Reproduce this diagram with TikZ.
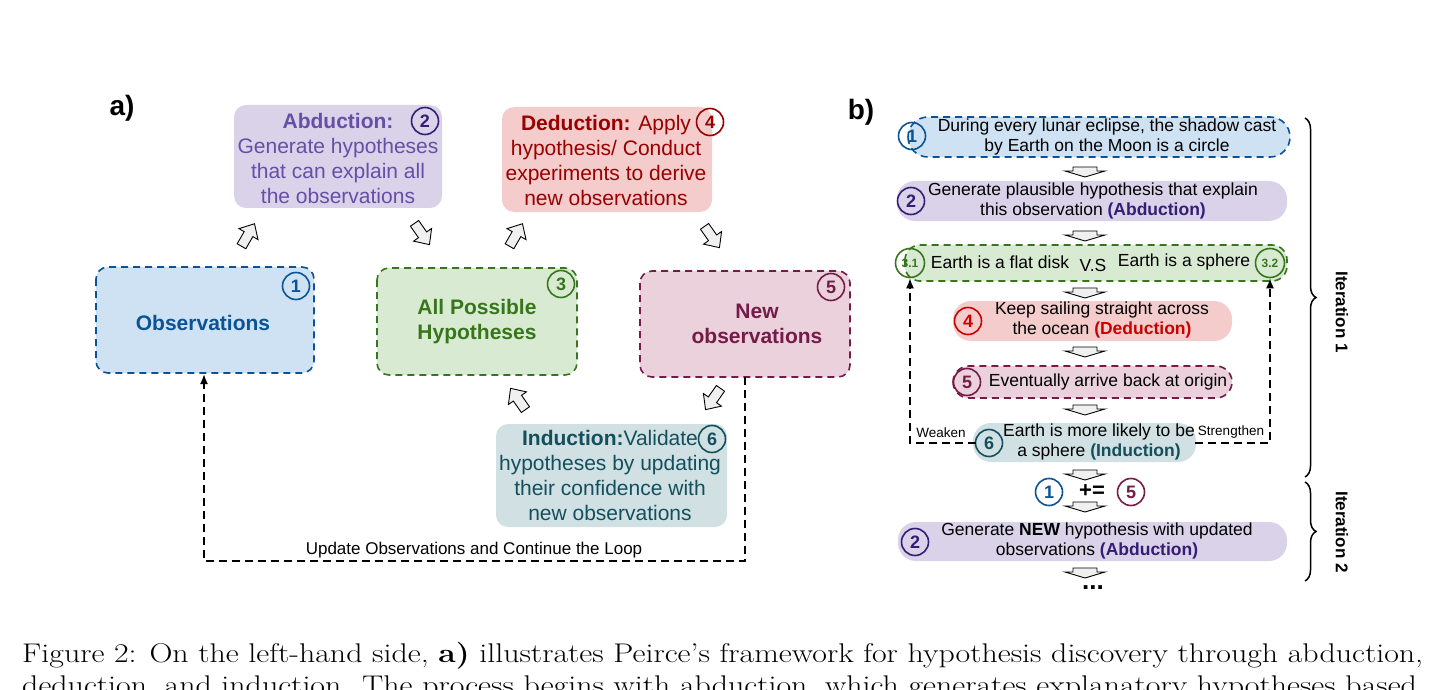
\documentclass[tikz,border=0pt]{standalone}
\usepackage{fontspec}
\setsansfont{Liberation Sans}
\usetikzlibrary{decorations.pathreplacing,arrows.meta}
\definecolor{cblue}{HTML}{0B5394}\definecolor{fblue}{HTML}{CFE2F3}
\definecolor{cpur}{HTML}{351C75}\definecolor{tpur}{HTML}{674EA7}\definecolor{fpur}{HTML}{D9D2E9}
\definecolor{cred}{HTML}{990000}\definecolor{tred}{HTML}{CC0000}\definecolor{fred}{HTML}{F4CCCC}
\definecolor{cgrn}{HTML}{38761D}\definecolor{fgrn}{HTML}{D9EAD3}
\definecolor{cmar}{HTML}{741B47}\definecolor{fmar}{HTML}{EAD1DC}
\definecolor{cteal}{HTML}{134F5C}\definecolor{fteal}{HTML}{D0E0E3}
\tikzset{
 box/.style={rounded corners=12pt,line width=1.6pt},
 dbox/.style={box,dashed,dash pattern=on 7pt off 5pt},
 pill/.style={rounded corners=18pt,line width=1.6pt},
 num/.style={circle,draw,line width=1.6pt,inner sep=0pt,minimum size=27pt,font=\sffamily\bfseries\fontsize{18}{18}\selectfont},
 fat/.pic={\filldraw[draw=black,fill=gray!12,line width=0.9pt,line join=miter] (-13,-5) -- (1,-5) -- (1,-11) -- (13,0) -- (1,11) -- (1,5) -- (-13,5) -- cycle;},
 dar/.pic={\filldraw[draw=black,fill=gray!12,line width=0.9pt] (-12,-5) -- (12,-5) -- (12,-1) -- (20,-1) -- (0,5) -- (-20,-1) -- (-12,-1) -- cycle;},
 atxt/.style={font=\sffamily\fontsize{21}{25}\selectfont,align=center},
 abold/.style={font=\sffamily\bfseries\fontsize{21}{25}\selectfont,align=center},
 bt/.style={font=\sffamily\fontsize{17.5}{20}\selectfont,align=center},
 loop/.style={line width=1.8pt,dash pattern=on 8pt off 5pt},
}
\begin{document}
\begin{tikzpicture}[x=1pt,y=-1pt]
\useasboundingbox (0,0) rectangle (1444,690);
\clip (0,0) rectangle (1444,690);
% ---------- a)
\node[font=\sffamily\bfseries\fontsize{28}{28}\selectfont] (la) at (122,108) {a)};
\filldraw[box,draw=none,fill=fpur] (234,105) rectangle (442,208);
\node[atxt,text=tpur] (abd) at (338,158) {\textbf{Abduction:}\\Generate hypotheses\\that can explain all\\the observations};
\node[num,draw=cpur,text=cpur] (n2a) at (425,121) {2};
\filldraw[box,draw=none,fill=fred] (502,107) rectangle (712,212);
\node[atxt,text=cred] (ded) at (606,160) {\textbf{Deduction:} Apply\\hypothesis/ Conduct\\experiments to derive\\new observations};
\node[num,draw=cred,text=cred] (n4a) at (710,122) {4};
\filldraw[dbox,draw=cblue,fill=fblue] (96,267) rectangle (314,373);
\node[abold,text=cblue] (obs) at (203,323) {Observations};
\node[num,draw=cblue,text=cblue] (n1a) at (296,286) {1};
\filldraw[dbox,draw=cgrn,fill=fgrn] (377,268) rectangle (577,375);
\node[abold,text=cgrn] (hyp) at (477,322) {All Possible\\Hypotheses};
\node[num,draw=cgrn,text=cgrn] (n3a) at (561,284) {3};
\filldraw[dbox,draw=cmar,fill=fmar] (640,271) rectangle (850,377);
\node[abold,text=cmar] (newo) at (757,324) {New\\observations};
\node[num,draw=cmar,text=cmar] (n5a) at (831,287) {5};
\filldraw[box,draw=none,fill=fteal] (496,424) rectangle (727,527);
\node[atxt,text=cteal] (ind) at (610,475) {\textbf{Induction:}Validate\\hypotheses by updating\\their confidence with\\new observations};
\node[num,draw=cteal,text=cteal] (n6a) at (712,439) {6};
\pic[rotate=60] at (248,235) {fat};
\pic[rotate=-55] at (422,234) {fat};
\pic[rotate=60] at (516,235) {fat};
\pic[rotate=-55] at (712,237) {fat};
\pic[rotate=125] at (518,399) {fat};
\pic[rotate=-125] at (713,399) {fat};
\coordinate (l1) at (745,377);\coordinate (l2) at (745,561);\coordinate (l3) at (204,561);\coordinate (l4) at (204,374);
\draw[loop,-{Latex[length=10pt,width=8pt]}] (l1) -- (l2) -- (l3) -- (l4);
\node[font=\sffamily\fontsize{17}{17}\selectfont] (upd) at (474,550) {Update Observations and Continue the Loop};
% ---------- b)
\node[font=\sffamily\bfseries\fontsize{28}{28}\selectfont] (lb) at (861,112) {b)};
\filldraw[pill,dashed,dash pattern=on 7pt off 5pt,draw=cblue,fill=fblue,rounded corners=20pt] (908,117) rectangle (1290,157);
\node[bt,text=black] (b1) at (1107,137) {During every lunar eclipse, the shadow cast\\by Earth on the Moon is a circle};
\node[num,draw=cblue,text=cblue] (c1) at (912,136) {1};
\pic at (1085,172) {dar};
\filldraw[pill,draw=none,fill=fpur] (897,181) rectangle (1287,221);
\node[bt] (b2) at (1093,201) {Generate plausible hypothesis that explain\\this observation \textcolor{cpur}{\textbf{(Abduction)}}};
\node[num,draw=cpur,text=cpur] (c2) at (911,201) {2};
\pic at (1085,236) {dar};
\filldraw[dbox,rounded corners=15pt,draw=cgrn,fill=fgrn] (905,245) rectangle (1287,281);
\node[bt] (b3a) at (1000,262) {Earth is a flat disk};
\node[bt] (vs) at (1093,265) {V.S};
\node[bt] (b3b) at (1184,262) {Earth is a sphere};
\node[num,draw=cgrn,text=cgrn,font=\sffamily\bfseries\fontsize{12}{12}\selectfont,minimum size=29pt] (c31) at (910,263) {3.1};
\node[num,draw=cgrn,text=cgrn,font=\sffamily\bfseries\fontsize{12}{12}\selectfont,minimum size=29pt] (c32) at (1270,263) {3.2};
\pic at (1085,293) {dar};
\filldraw[pill,draw=none,fill=fred] (953,301) rectangle (1232,341);
\node[bt] (b4) at (1102,320) {Keep sailing straight across\\the ocean \textcolor{tred}{\textbf{(Deduction)}}};
\node[num,draw=tred,text=tred] (c4) at (968,321) {4};
\pic at (1085,352) {dar};
\filldraw[pill,dashed,dash pattern=on 7pt off 5pt,draw=cmar,fill=fmar,rounded corners=16pt] (953,366) rectangle (1232,398);
\node[bt] (b5) at (1108,382) {Eventually arrive back at origin};
\node[num,draw=cmar,text=cmar] (c5) at (967,382) {5};
\pic at (1085,410) {dar};
\filldraw[pill,draw=none,fill=fteal] (973,423) rectangle (1196,462);
\node[bt] (b6) at (1099,442) {Earth is more likely to be\\a sphere \textcolor{cteal}{\textbf{(Induction)}}};
\node[num,draw=cteal,text=cteal] (c6) at (989,443) {6};
\coordinate (w1) at (976,443);\coordinate (w2) at (910,443);
\coordinate (s1) at (1195,443);\coordinate (s2) at (1270,443);
\draw[loop,line width=1.5pt,-{Latex[length=10pt,width=8pt]}] (w1) -- (w2) -- (c31.south);
\draw[loop,line width=1.5pt,-{Latex[length=10pt,width=8pt]}] (s1) -- (s2) -- (c32.south);
\node[font=\sffamily\fontsize{13.5}{13.5}\selectfont] (wk) at (941,433) {Weaken};
\node[font=\sffamily\fontsize{13.5}{13.5}\selectfont] (st) at (1231,432) {Strengthen};
\pic at (1085,475) {dar};
\node[num,draw=cblue,text=cblue] (e1) at (1049,492) {1};
\node[font=\sffamily\bfseries\fontsize{22}{22}\selectfont] (pe) at (1092,491) {+=};
\node[num,draw=cmar,text=cmar] (e5) at (1131,492) {5};
\pic at (1085,507) {dar};
\filldraw[pill,draw=none,fill=fpur] (898,522) rectangle (1287,561);
\node[bt] (b7) at (1097,541) {Generate \textbf{NEW} hypothesis with updated\\observations \textcolor{cpur}{\textbf{(Abduction)}}};
\node[num,draw=cpur,text=cpur] (c7) at (915,542) {2};
\pic at (1085,573) {dar};
\node[font=\sffamily\bfseries\fontsize{26}{26}\selectfont] (dots) at (1093,588) {...};
\draw[decorate,decoration={brace,amplitude=11pt},line width=1.5pt] (1305,118) -- (1305,477);
\draw[decorate,decoration={brace,amplitude=11pt},line width=1.5pt] (1305,482) -- (1305,581);
\node[rotate=-90,font=\sffamily\bfseries\fontsize{17}{17}\selectfont] (it1) at (1342,312) {Iteration 1};
\node[rotate=-90,font=\sffamily\bfseries\fontsize{17}{17}\selectfont] (it2) at (1342,532) {Iteration 2};
% ---------- caption
\node[anchor=base west,font=\fontsize{27}{29}\selectfont,inner sep=0pt,xscale=1.18] (cap1) at (22,662) {Figure 2: On the left-hand side, \textbf{a)} illustrates Peirce's framework for hypothesis discovery through abduction,};
\node[anchor=base west,font=\fontsize{27}{29}\selectfont,inner sep=0pt,xscale=1.18] (cap2) at (22,694) {deduction, and induction. The process begins with abduction, which generates explanatory hypotheses based};
\end{tikzpicture}
\end{document}
